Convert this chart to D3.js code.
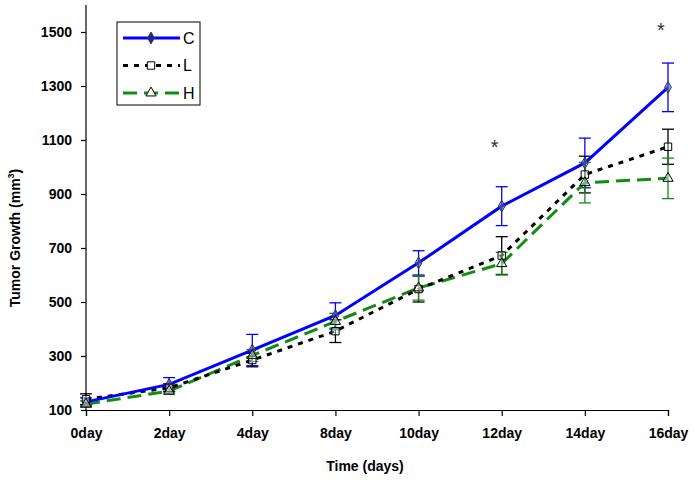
<!DOCTYPE html>
<html><head><meta charset="utf-8">
<script src="https://cdn.jsdelivr.net/npm/d3@7"></script>
<style>body{margin:0;background:#fff}svg{display:block}text{font-family:Arial,"Liberation Sans",sans-serif}</style>
</head><body><svg id="c" width="698" height="480"></svg>
<script>
const categories = ["0day","2day","4day","8day","10day","12day","14day","16day"];
const yTicks = [100,300,500,700,900,1100,1300,1500];
const cValues = [130,195,322,450,645,855,1015,1295];
const cErrors = [15,25,58,47,45,72,92,90];
const lValues = [140,182,285,392,548,672,972,1075];
const lErrors = [20,15,25,42,48,70,68,65];
const hValues = [122,170,302,428,552,642,942,958];
const hErrors = [12,12,22,30,45,42,75,75];
const starCats = ["12day","16day"];
const starValues = [1080,1515];

const svg = d3.select("#c");
const x = d3.scalePoint().domain(categories).range([86,668]);
const y = d3.scaleLinear().domain([100,1600]).range([410,5]);

// axes
const xAxis = svg.append("g").attr("transform","translate(0,410)")
  .call(d3.axisBottom(x).tickSizeOuter(0).tickSize(6).tickPadding(12));
const yAxis = svg.append("g").attr("transform","translate(86,0)")
  .call(d3.axisLeft(y).tickValues(yTicks).tickFormat(d3.format("d")).tickSizeOuter(0).tickSize(5).tickPadding(9));
[xAxis,yAxis].forEach(a=>{
  a.select(".domain").attr("stroke","#000").attr("stroke-width",1.2);
  a.selectAll(".tick line").attr("stroke","#000").attr("stroke-width",1.2);
  a.selectAll("text").attr("font-size",14).attr("font-weight","bold").attr("fill","#000");
});
yAxis.selectAll("text").attr("dy","0.35em");
yAxis.select(".domain").attr("d","M0,410V5");

svg.append("text").attr("x",365).attr("y",471).attr("text-anchor","middle")
  .attr("font-size",14).attr("font-weight","bold").text("Time (days)");
const yt = svg.append("text").attr("transform","translate(20,238) rotate(-90)")
  .attr("text-anchor","middle").attr("font-size",14).attr("font-weight","bold");
yt.append("tspan").text("Tumor Growth (mm");
yt.append("tspan").attr("font-size",9).attr("dy",-6).text("3");
yt.append("tspan").attr("dy",6).text(")");

const series = [
  {name:"C", vals:cValues, errs:cErrors, color:"#0000ff", dash:null, marker:"diamond", mfill:"#5566aa", mstroke:"#333355"},
  {name:"L", vals:lValues, errs:lErrors, color:"#000000", dash:"5,6", marker:"square", mfill:"#fff", mstroke:"#000"},
  {name:"H", vals:hValues, errs:hErrors, color:"#148c14", dash:"14,7", marker:"triangle", mfill:"#fff", mstroke:"#000"}
];
const symType = {diamond:d3.symbolDiamond, square:d3.symbolSquare, triangle:d3.symbolTriangle};
const symSize = {diamond:40, square:55, triangle:45};

// error bars
series.forEach(s=>{
  const g = svg.append("g");
  categories.forEach((c,i)=>{
    const cx = x(c), top = y(s.vals[i]+s.errs[i]), bot = y(s.vals[i]-s.errs[i]);
    g.append("line").attr("x1",cx).attr("x2",cx).attr("y1",top).attr("y2",bot).attr("stroke",s.color).attr("stroke-width",1.3);
    [top,bot].forEach(yy=>g.append("line").attr("x1",cx-6).attr("x2",cx+6).attr("y1",yy).attr("y2",yy).attr("stroke",s.color).attr("stroke-width",1.3));
  });
});
// lines
const line = d3.line().x((d,i)=>x(categories[i])).y(d=>y(d));
series.slice().reverse().forEach(s=>{
  svg.append("path").datum(s.vals).attr("d",line).attr("fill","none")
    .attr("stroke",s.color).attr("stroke-width",3).attr("stroke-dasharray",s.dash);
});
// markers
series.forEach(s=>{
  svg.append("g").selectAll("path").data(s.vals).join("path")
    .attr("transform",(d,i)=>`translate(${x(categories[i])},${y(d)})`)
    .attr("d",d3.symbol(symType[s.marker],symSize[s.marker]))
    .attr("fill",s.mfill).attr("fill-opacity",s.marker==="diamond"?0.6:0.4).attr("stroke",s.mstroke).attr("stroke-width",1);
});
// stars
svg.append("g").selectAll("text").data(starValues).join("text")
  .attr("x",(d,i)=>x(starCats[i])-7).attr("y",(d,i)=>y(d)+9)
  .attr("text-anchor","middle").attr("font-size",20).attr("fill","#333").text("*");

// legend
const lg = svg.append("g");
lg.append("rect").attr("x",117).attr("y",22).attr("width",83).attr("height",83)
  .attr("fill","#fff").attr("stroke","#000").attr("stroke-width",1);
series.forEach((s,i)=>{
  const ly = 38 + i*27.5;
  lg.append("line").attr("x1",123).attr("x2",180).attr("y1",ly).attr("y2",ly)
    .attr("stroke",s.color).attr("stroke-width",3).attr("stroke-dasharray",s.dash);
  lg.append("path").attr("transform",`translate(151,${ly})`)
    .attr("d",d3.symbol(symType[s.marker],symSize[s.marker]))
    .attr("fill",s.marker==="diamond"?"#1a2a88":"#fff").attr("stroke",s.mstroke).attr("stroke-width",1);
  lg.append("text").attr("x",183).attr("y",ly).attr("dy","0.35em").attr("font-size",16).text(s.name);
});
</script></body></html>
